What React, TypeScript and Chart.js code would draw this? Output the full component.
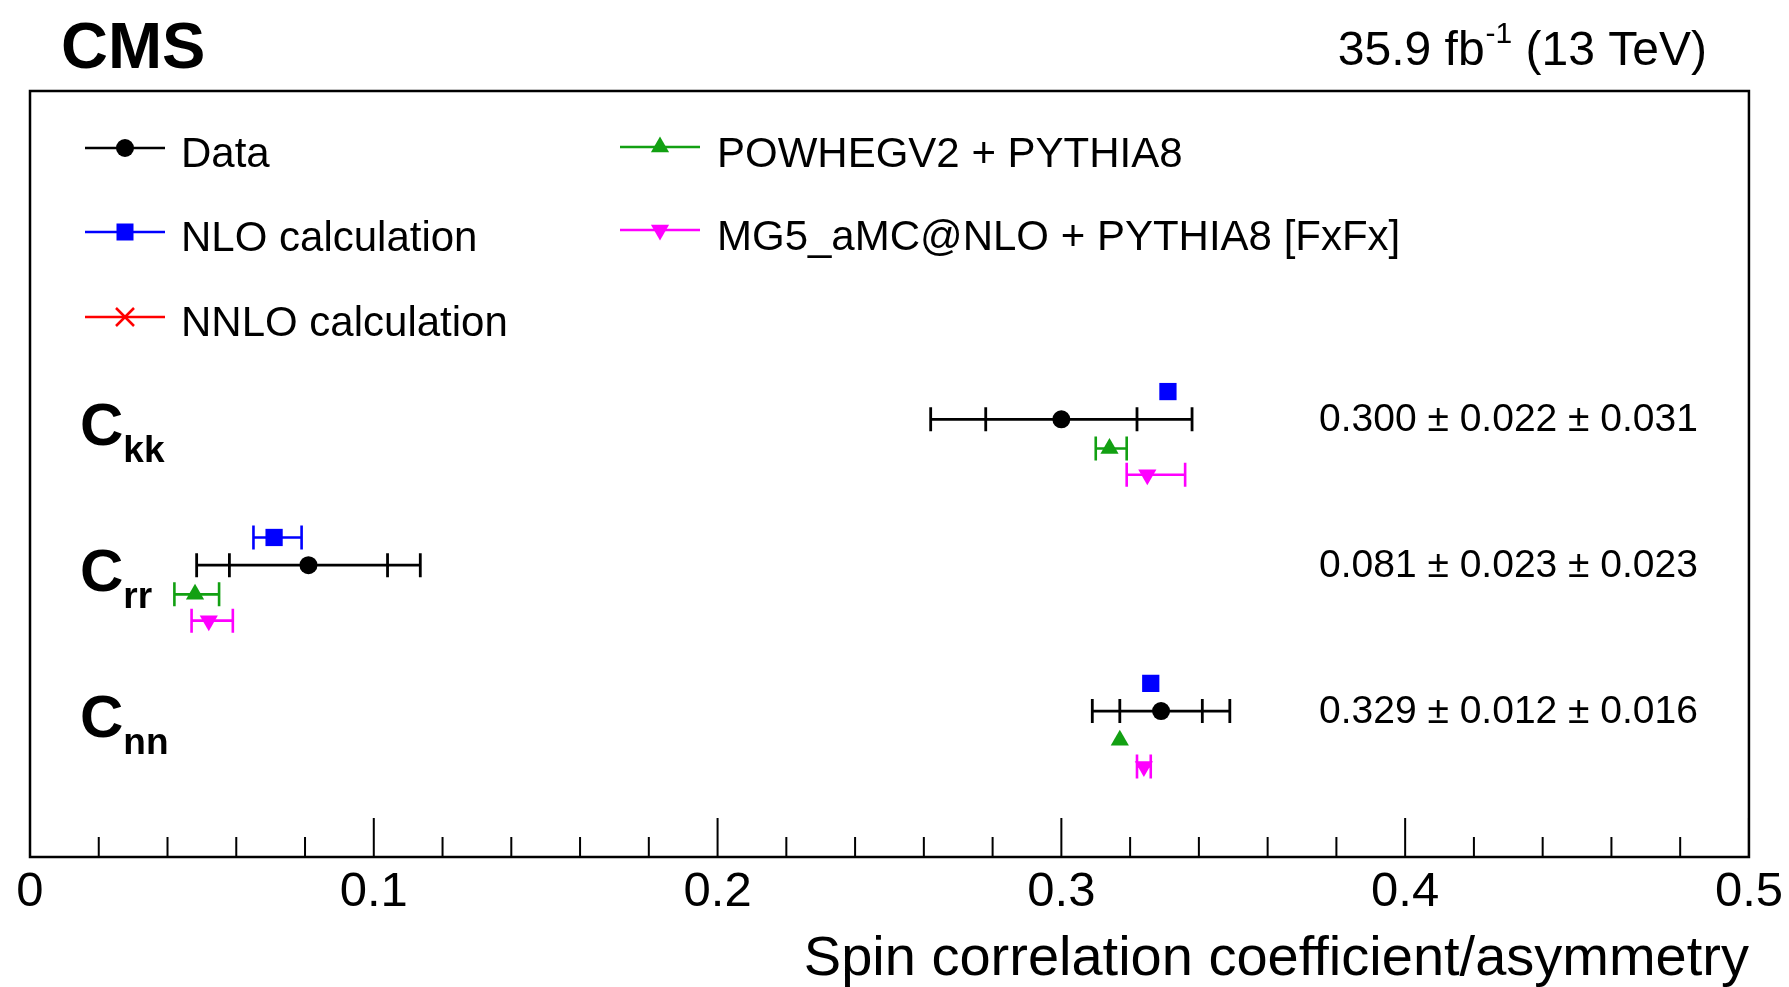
import React, { useEffect, useRef } from 'react';
import { Chart, registerables } from 'chart.js';

Chart.register(...registerables);

// ---------------- data ----------------
const coefficientNames = ['kk', 'rr', 'nn'];
const rowPositions = [3, 2, 1];

const dataValues = [0.300, 0.081, 0.329];
const statErrors = [0.022, 0.023, 0.012];
const systErrors = [0.031, 0.023, 0.016];

const nloValues = [0.331, 0.071, 0.326];
const nloLow = [0.331, 0.065, 0.326];
const nloHigh = [0.331, 0.079, 0.326];

const powhegValues = [0.314, 0.048, 0.317];
const powhegLow = [0.310, 0.042, 0.317];
const powhegHigh = [0.319, 0.055, 0.317];

const mg5Values = [0.325, 0.052, 0.324];
const mg5Low = [0.319, 0.047, 0.322];
const mg5High = [0.336, 0.059, 0.326];

const xTickLabels = ['0', '0.1', '0.2', '0.3', '0.4', '0.5'];

const legendLabels = {
  data: 'Data',
  nlo: 'NLO calculation',
  nnlo: 'NNLO calculation',
  powheg: 'POWHEGV2 + PYTHIA8',
  mg5: 'MG5_aMC@NLO + PYTHIA8 [FxFx]',
};

// ---------------- style ----------------
const FONT = "'Liberation Sans', Arial, Helvetica, sans-serif";
const BLACK = '#000000';
const BLUE = '#0000ff';
const RED = '#ff0000';
const GREEN = '#12a012';
const MAGENTA = '#ff00ff';

const NLO_OFFSET = 0.19;
const POWHEG_OFFSET = -0.2;
const MG5_OFFSET = -0.38;

function drawMarker(ctx: CanvasRenderingContext2D, kind: string, x: number, y: number, color: string) {
  ctx.save();
  ctx.fillStyle = color;
  ctx.strokeStyle = color;
  ctx.beginPath();
  if (kind === 'circle') {
    ctx.arc(x, y, 9, 0, Math.PI * 2);
    ctx.fill();
  } else if (kind === 'square') {
    ctx.rect(x - 8.5, y - 8.5, 17, 17);
    ctx.fill();
  } else if (kind === 'up') {
    const r = 10.5;
    ctx.moveTo(x, y - r);
    ctx.lineTo(x + r * 0.866, y + r * 0.5);
    ctx.lineTo(x - r * 0.866, y + r * 0.5);
    ctx.closePath();
    ctx.fill();
  } else if (kind === 'down') {
    const r = 10.5;
    ctx.moveTo(x, y + r);
    ctx.lineTo(x + r * 0.866, y - r * 0.5);
    ctx.lineTo(x - r * 0.866, y - r * 0.5);
    ctx.closePath();
    ctx.fill();
  } else if (kind === 'cross') {
    ctx.lineWidth = 2.5;
    const h = 9;
    ctx.moveTo(x - h, y - h);
    ctx.lineTo(x + h, y + h);
    ctx.moveTo(x + h, y - h);
    ctx.lineTo(x - h, y + h);
    ctx.stroke();
  }
  ctx.restore();
}

const framePlugin = {
  id: 'cmsFrame',
  beforeDatasetsDraw(chart: any) {
    const { ctx, chartArea } = chart;
    const xs = chart.scales.x;
    const ys = chart.scales.y;
    ctx.save();
    // frame
    ctx.strokeStyle = BLACK;
    ctx.lineWidth = 2.5;
    ctx.strokeRect(chartArea.left, chartArea.top, chartArea.right - chartArea.left, chartArea.bottom - chartArea.top);
    // inward ticks
    ctx.lineWidth = 2;
    const majors = xs.ticks.map((t: any) => t.value);
    ctx.beginPath();
    majors.forEach((v: number, i: number) => {
      const px = xs.getPixelForValue(v);
      ctx.moveTo(px, chartArea.bottom);
      ctx.lineTo(px, chartArea.bottom - 39);
      if (i < majors.length - 1) {
        const step = (majors[i + 1] - v) / 5;
        for (let k = 1; k < 5; k++) {
          const mp = xs.getPixelForValue(v + k * step);
          ctx.moveTo(mp, chartArea.bottom);
          ctx.lineTo(mp, chartArea.bottom - 20);
        }
      }
    });
    ctx.stroke();

    // error bars
    const cap = 12;
    const bar = (lo: number, hi: number, yv: number, color: string, width: number, inner?: [number, number]) => {
      const x1 = xs.getPixelForValue(lo);
      const x2 = xs.getPixelForValue(hi);
      const py = ys.getPixelForValue(yv);
      if (Math.abs(x2 - x1) < 0.5) return;
      ctx.strokeStyle = color;
      ctx.lineWidth = width;
      ctx.beginPath();
      ctx.moveTo(x1, py);
      ctx.lineTo(x2, py);
      const caps = [x1, x2];
      if (inner) caps.push(xs.getPixelForValue(inner[0]), xs.getPixelForValue(inner[1]));
      caps.forEach((cx) => {
        ctx.moveTo(cx, py - cap);
        ctx.lineTo(cx, py + cap);
      });
      ctx.stroke();
    };
    rowPositions.forEach((row, i) => {
      const tot = Math.sqrt(statErrors[i] ** 2 + systErrors[i] ** 2);
      bar(dataValues[i] - tot, dataValues[i] + tot, row, BLACK, 2.8, [dataValues[i] - statErrors[i], dataValues[i] + statErrors[i]]);
      bar(nloLow[i], nloHigh[i], row + NLO_OFFSET, BLUE, 2.6);
      bar(powhegLow[i], powhegHigh[i], row + POWHEG_OFFSET, GREEN, 2.6);
      bar(mg5Low[i], mg5High[i], row + MG5_OFFSET, MAGENTA, 2.6);
    });
    ctx.restore();
  },
  afterDraw(chart: any) {
    const { ctx } = chart;
    const ys = chart.scales.y;
    ctx.save();
    ctx.fillStyle = BLACK;
    ctx.textBaseline = 'alphabetic';
    ctx.textAlign = 'left';

    // CMS
    ctx.font = `bold 65px ${FONT}`;
    ctx.fillText('CMS', 61, 68);

    // luminosity
    const partA = '35.9 fb';
    const partB = '-1';
    const partC = ' (13 TeV)';
    ctx.font = `48px ${FONT}`;
    const wA = ctx.measureText(partA).width;
    const wC = ctx.measureText(partC).width;
    ctx.font = `30px ${FONT}`;
    const wB = ctx.measureText(partB).width;
    let lx = 1706 - (wA + wB + wC);
    ctx.font = `48px ${FONT}`;
    ctx.fillText(partA, lx, 65);
    lx += wA + 1;
    ctx.font = `30px ${FONT}`;
    ctx.fillText(partB, lx, 43);
    lx += wB;
    ctx.font = `48px ${FONT}`;
    ctx.fillText(partC, lx, 65);

    // legend
    const legendRows = [
      { x0: 85, x1: 165, mx: 125, tx: 181, ly: 148, by: 167, color: BLACK, kind: 'circle', text: legendLabels.data },
      { x0: 85, x1: 165, mx: 125, tx: 181, ly: 232, by: 251, color: BLUE, kind: 'square', text: legendLabels.nlo },
      { x0: 85, x1: 165, mx: 125, tx: 181, ly: 317, by: 336, color: RED, kind: 'cross', text: legendLabels.nnlo },
      { x0: 620, x1: 700, mx: 660, tx: 717, ly: 147, by: 167, color: GREEN, kind: 'up', text: legendLabels.powheg },
      { x0: 620, x1: 700, mx: 660, tx: 717, ly: 230, by: 250, color: MAGENTA, kind: 'down', text: legendLabels.mg5 },
    ];
    legendRows.forEach((r) => {
      ctx.strokeStyle = r.color;
      ctx.lineWidth = 2.5;
      ctx.beginPath();
      ctx.moveTo(r.x0, r.ly);
      ctx.lineTo(r.x1, r.ly);
      ctx.stroke();
      drawMarker(ctx, r.kind, r.mx, r.ly, r.color);
      ctx.fillStyle = BLACK;
      ctx.font = `42px ${FONT}`;
      ctx.fillText(r.text, r.tx, r.by);
    });

    // row labels and values
    rowPositions.forEach((row, i) => {
      const py = ys.getPixelForValue(row);
      ctx.fillStyle = BLACK;
      ctx.font = `bold 60px ${FONT}`;
      ctx.fillText('C', 80, py + 26);
      const wc = ctx.measureText('C').width;
      ctx.font = `bold 37px ${FONT}`;
      ctx.fillText(coefficientNames[i], 80 + wc, py + 43);
      ctx.font = `39px ${FONT}`;
      const txt = `${dataValues[i].toFixed(3)} \u00B1 ${statErrors[i].toFixed(3)} \u00B1 ${systErrors[i].toFixed(3)}`;
      ctx.fillText(txt, 1319, py + 12);
    });
    ctx.restore();
  },
};

export default function App() {
  const ref = useRef<HTMLCanvasElement>(null);

  useEffect(() => {
    document.body.style.margin = '0';
    const canvas = ref.current;
    if (!canvas) return;
    Chart.defaults.font.family = FONT;
    const pts = (vals: number[], off: number) => vals.map((v, i) => ({ x: v, y: rowPositions[i] + off }));
    const chart = new Chart(canvas, {
      type: 'scatter',
      data: {
        datasets: [
          { label: legendLabels.data, data: pts(dataValues, 0), pointStyle: 'circle', pointRadius: 9, pointBackgroundColor: BLACK, pointBorderWidth: 0, backgroundColor: BLACK, borderColor: BLACK },
          { label: legendLabels.nlo, data: pts(nloValues, NLO_OFFSET), pointStyle: 'rect', pointRadius: 12.2, pointBackgroundColor: BLUE, pointBorderWidth: 0, backgroundColor: BLUE, borderColor: BLUE },
          { label: legendLabels.nnlo, data: [], pointStyle: 'crossRot', pointRadius: 12, borderColor: RED, backgroundColor: RED },
          { label: legendLabels.powheg, data: pts(powhegValues, POWHEG_OFFSET), pointStyle: 'triangle', pointRadius: 10.5, pointBackgroundColor: GREEN, pointBorderWidth: 0, backgroundColor: GREEN, borderColor: GREEN },
          { label: legendLabels.mg5, data: pts(mg5Values, MG5_OFFSET), pointStyle: 'triangle', pointRotation: 180, pointRadius: 10.5, pointBackgroundColor: MAGENTA, pointBorderWidth: 0, backgroundColor: MAGENTA, borderColor: MAGENTA },
        ],
      } as any,
      options: {
        responsive: false,
        animation: false,
        events: [],
        layout: { padding: { left: 30, right: 39, top: 91, bottom: 0 } },
        plugins: { legend: { display: false }, tooltip: { enabled: false } },
        scales: {
          x: {
            type: 'linear',
            position: 'bottom',
            min: 0,
            max: 0.5,
            grid: { display: false, drawTicks: false },
            border: { display: false },
            ticks: {
              stepSize: 0.1,
              autoSkip: false,
              maxRotation: 0,
              padding: 6,
              color: BLACK,
              font: { family: FONT, size: 49 },
              callback: (_v: any, i: number) => xTickLabels[i],
            },
            title: {
              display: true,
              text: 'Spin correlation coefficient/asymmetry',
              align: 'end',
              color: BLACK,
              font: { family: FONT, size: 56 },
              padding: { top: 0, bottom: -6 },
            },
            afterFit: (s: any) => { s.height = 130; },
          },
          y: {
            type: 'linear',
            display: false,
            min: 0,
            max: 5.25,
          },
        },
      } as any,
      plugins: [framePlugin],
    });
    return () => chart.destroy();
  }, []);

  return (
    <div style={{ width: 1789, height: 987 }}>
      <canvas ref={ref} width={1789} height={987} style={{ display: 'block', width: 1789, height: 987 }} />
    </div>
  );
}
